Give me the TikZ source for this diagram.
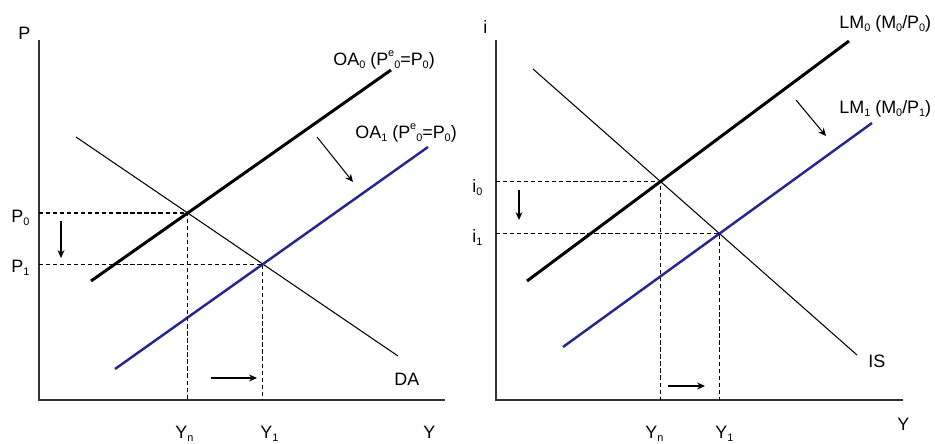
\documentclass[tikz,border=0pt]{standalone}
\usepackage{fontspec}
\setmainfont{Liberation Sans}
\usetikzlibrary{arrows.meta}
\definecolor{shiftblue}{RGB}{38, 38, 140}
\newcommand{\lo}[1]{\raisebox{-0.35ex}{\fontsize{6.2}{7}\selectfont #1}}
\newcommand{\hi}[1]{\raisebox{0.9ex}{\fontsize{6.2}{7}\selectfont #1}}
\newcommand{\pexp}{P\hi{e}\lo{0}}

\begin{document}
\begin{tikzpicture}[
  x=0.02cm, y=-0.02cm,
  >=Stealth,
  axis/.style={line width=0.8pt, draw=black!80},
  demand/.style={line width=0.6pt},
  supply/.style={line width=1.7pt},
  shifted/.style={line width=1.4pt, draw=shiftblue},
  guide/.style={dash pattern=on 2.4pt off 1.6pt, line width=0.65pt},
  move/.style={->, line width=0.6pt, >={Stealth[length=4.5pt, width=4pt]}},
  lbl/.style={font=\fontsize{10.2}{12}\selectfont, inner sep=0pt, anchor=base west}
]
  \useasboundingbox (0,0) rectangle (935,443);

  % left panel: OA-DA
  \coordinate (oL) at (39,400);
  \draw[axis] (39,40) -- (oL) -- (445,400);
  \node[lbl] (pax) at (18,39) {P};
  \node[lbl] (yaxL) at (423,438) {Y};

  \coordinate (da1) at (76,137);   \coordinate (da2) at (398,356);
  \coordinate (oa01) at (91,281);  \coordinate (oa02) at (391,70);
  \coordinate (oa11) at (115,369); \coordinate (oa12) at (428,147);
  \draw[demand] (da1) -- (da2);
  \draw[supply] (oa01) -- (oa02);
  \draw[shifted] (oa11) -- (oa12);

  \coordinate (eL0) at (intersection of da1--da2 and oa01--oa02);
  \coordinate (eL1) at (intersection of da1--da2 and oa11--oa12);
  \draw[guide] (eL0 -| oL) -- (eL0) -- (eL0 |- oL);
  \draw[guide] (eL1 -| oL) -- (eL1) -- (eL1 |- oL);

  \node[lbl] (oa0) at (333,65) {OA\lo{0} (\pexp=P\lo{0})};
  \node[lbl] (oa1) at (355,138) {OA\lo{1} (\pexp=P\lo{0})};
  \node[lbl] (da)  at (394,385) {DA};
  \node[lbl] (p0)  at (11,222) {P\lo{0}};
  \node[lbl] (p1)  at (11,272) {P\lo{1}};
  \node[lbl] (yn)  at (175,438) {Y\lo{n}};
  \node[lbl] (y1)  at (260,438) {Y\lo{1}};

  \coordinate (dnL1) at (61,221);  \coordinate (dnL2) at (61,258);
  \coordinate (rtL1) at (211,378); \coordinate (rtL2) at (257,378);
  \coordinate (dgL1) at (317,137); \coordinate (dgL2) at (353,182);
  \draw[move] (dnL1) -- (dnL2);
  \draw[move] (rtL1) -- (rtL2);
  \draw[move] (dgL1) -- (dgL2);

  % right panel: IS-LM
  \coordinate (oR) at (496,400);
  \draw[axis] (496,40) -- (oR) -- (903,400);
  \node[lbl] (iax) at (483,33) {i};
  \node[lbl] (yaxR) at (897,430) {Y};

  \coordinate (is1) at (533,69);   \coordinate (is2) at (857,355);
  \coordinate (lm01) at (527,281); \coordinate (lm02) at (849,41);
  \coordinate (lm11) at (563,347); \coordinate (lm12) at (872,123);
  \draw[demand] (is1) -- (is2);
  \draw[supply] (lm01) -- (lm02);
  \draw[shifted] (lm11) -- (lm12);

  \coordinate (eR0) at (intersection of is1--is2 and lm01--lm02);
  \coordinate (eR1) at (intersection of is1--is2 and lm11--lm12);
  \draw[guide] (eR0 -| oR) -- (eR0) -- (eR0 |- oR);
  \draw[guide] (eR1 -| oR) -- (eR1) -- (eR1 |- oR);

  \node[lbl] (lm0) at (839,28)  {LM\lo{0} (M\lo{0}/P\lo{0})};
  \node[lbl] (lm1) at (839,113) {LM\lo{1} (M\lo{0}/P\lo{1})};
  \node[lbl] (is)  at (868,367) {IS};
  \node[lbl] (i0)  at (472,192) {i\lo{0}};
  \node[lbl] (i1)  at (472,242) {i\lo{1}};
  \node[lbl] (ynR) at (645,438) {Y\lo{n}};
  \node[lbl] (y1R) at (715,438) {Y\lo{1}};

  \coordinate (dnR1) at (519,190); \coordinate (dnR2) at (519,220);
  \coordinate (rtR1) at (668,386); \coordinate (rtR2) at (705,386);
  \coordinate (dgR1) at (796,100); \coordinate (dgR2) at (826,136);
  \draw[move] (dnR1) -- (dnR2);
  \draw[move] (rtR1) -- (rtR2);
  \draw[move] (dgR1) -- (dgR2);
\end{tikzpicture}
\end{document}
